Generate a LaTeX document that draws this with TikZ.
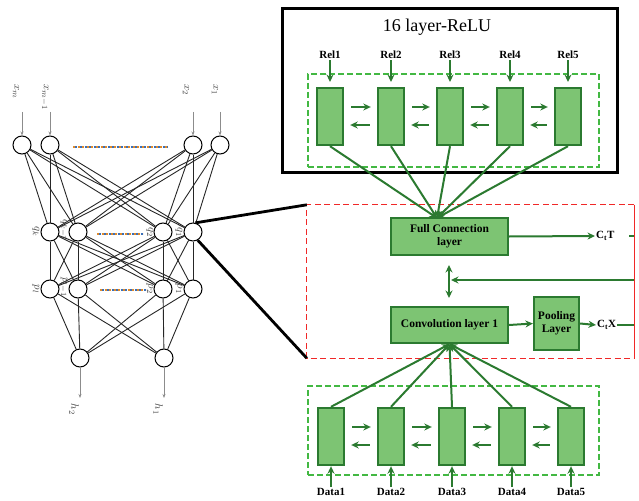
\documentclass[tikz,border=0pt]{standalone}
\usepackage{fontspec}
\setmainfont{Liberation Serif}
\usetikzlibrary{arrows.meta,calc}
\definecolor{gfill}{HTML}{7DC473}
\definecolor{gdraw}{HTML}{2B7A30}
\definecolor{garr}{HTML}{2B7A30}
\definecolor{gdash}{HTML}{43B843}
\definecolor{rdash}{HTML}{F02828}
\definecolor{dotorange}{HTML}{E08A2A}
\definecolor{dotblue}{HTML}{3A6FB8}
\begin{document}
\begin{tikzpicture}[x=1pt,y=-1pt,
  neur/.style={circle,draw,minimum size=18pt,inner sep=0pt,line width=1pt,fill=white},
  nlab/.style={rotate=-90,font=\fontsize{11}{11}\selectfont,text=black!75,inner sep=0.5pt},
  wire/.style={line width=0.9pt,black!85},
  inarr/.style={-{Stealth[length=4pt,width=3pt]},black!45,line width=0.7pt},
  cellbox/.style={draw=gdraw,fill=gfill,line width=2.4pt,minimum width=26pt,minimum height=57pt,inner sep=0pt},
  gbox/.style={draw=gdraw,fill=gfill,line width=2.2pt,inner sep=0pt,align=center,font=\bfseries\fontsize{11.5}{13}\selectfont},
  gdashbox/.style={draw=gdash,line width=1.3pt,dash pattern=on 6pt off 3pt,inner sep=0pt},
  garrow/.style={-{Stealth[length=7.5pt,width=7pt]},garr,line width=2pt},
  gline/.style={garr,line width=2pt},
  glab/.style={font=\bfseries\fontsize{11}{12}\selectfont,inner sep=1pt},
  dotorst/.style={draw=dotorange,line width=2pt,dash pattern=on 2pt off 2.6pt},
  dotblst/.style={draw=dotblue,line width=2pt,dash pattern=on 2pt off 2.6pt,dash phase=2.3pt}]
\useasboundingbox (0,0) rectangle (639,500);

% ---------------- left network ----------------
\node[neur] (i4) at (22,145) {};
\node[neur] (i3) at (50,145) {};
\node[neur] (i2) at (193,145) {};
\node[neur] (i1) at (220,145) {};
\node[neur] (h4) at (50,232) {};
\node[neur] (h3) at (78,232) {};
\node[neur] (h2) at (163,232) {};
\node[neur] (h1) at (193,232) {};
\node[neur] (g4) at (50,289) {};
\node[neur] (g3) at (78,289) {};
\node[neur] (g2) at (163,289) {};
\node[neur] (g1) at (193,289) {};
\node[neur] (o2) at (80,358) {};
\node[neur] (o1) at (164,358) {};

\foreach \a in {i1,i2,i3,i4}{\foreach \b in {h1,h2,h3,h4}{\draw[wire] (\a) -- (\b);}}
\foreach \a in {h1,h2,h3,h4}{\foreach \b in {g1,g2,g3,g4}{\draw[wire] (\a) -- (\b);}}
\foreach \a in {g1,g2,g3,g4}{\foreach \b in {o1,o2}{\draw[wire] (\a) -- (\b);}}

\coordinate (ia4) at (22,112);
\coordinate (ia3) at (50,112);
\coordinate (ia2) at (193,112);
\coordinate (ia1) at (220,112);
\foreach \k in {1,2,3,4}{\draw[inarr] (ia\k) -- (i\k);}
\node[nlab,anchor=west] (lx4) at (16,84) {$x_m$};
\node[nlab,anchor=west] (lx3) at (45,84) {$x_{m-1}$};
\node[nlab,anchor=west] (lx2) at (186,84) {$x_2$};
\node[nlab,anchor=west] (lx1) at (215,84) {$x_1$};

\node[nlab] (lq4) at (36,232) {$q_k$};
\node[nlab] (lq3) at (64,230) {$q_{k-1}$};
\node[nlab] (lq2) at (150,232) {$q_2$};
\node[nlab] (lq1) at (179,232) {$q_1$};
\node[nlab] (lp4) at (36,289) {$p_l$};
\node[nlab] (lp3) at (64,287) {$p_{l-1}$};
\node[nlab] (lp2) at (150,289) {$p_2$};
\node[nlab] (lp1) at (179,289) {$p_1$};

\coordinate (oa2) at (80,398);
\coordinate (oa1) at (164,398);
\draw[inarr] (o2) -- (oa2);
\draw[inarr] (o1) -- (oa1);
\node[nlab,anchor=west] (lh2) at (74,403) {$h_2$};
\node[nlab,anchor=west] (lh1) at (158,403) {$h_1$};

\draw[dotorst] (73,147) -- (168,147);
\draw[dotblst] (73,147) -- (168,147);
\draw[dotorst] (97,234) -- (143,234);
\draw[dotblst] (97,234) -- (143,234);
\draw[dotorst] (100,290) -- (146,290);
\draw[dotblst] (100,290) -- (146,290);

% ---------------- red dashed box ----------------
\node[minimum width=327pt,minimum height=153pt,inner sep=0pt] (rb) at (470.5,281.5) {};
\draw[rdash,line width=1.3pt,dash pattern=on 6pt off 3.5pt] (rb.north east) -- (rb.north west) -- (rb.south west) -- (rb.south east);
\draw[rdash,line width=1.1pt] (rb.north east) -- (rb.south east);

\draw[line width=2.8pt] (h1.75) -- (rb.north west);
\draw[line width=2.8pt] (h1.-60) -- (rb.south west);

% ---------------- top black box ----------------
\node[draw,line width=3pt,minimum width=335pt,minimum height=164pt,inner sep=0pt] (bb) at (450,90.5) {};
\node[font=\fontsize{18}{18}\selectfont] (title) at (437,27) {16 layer-ReLU};
\node[gdashbox,minimum width=291pt,minimum height=93pt] (td) at (453.5,120.5) {};

\foreach \k/\x in {1/330,2/391,3/450,4/510,5/568}{
  \node[cellbox] (t\k) at (\x,116.5) {};
  \node[glab] (rel\k) at (\x,55) {Rel\k};
  \coordinate (ra\k) at (\x,82);
  \draw[garrow] (rel\k.south) -- (ra\k);
}
\foreach \a/\b in {1/2,2/3,3/4,4/5}{
  \draw[garrow] ($(t\a.east)+(7,-9.5)$) -- ($(t\b.west)+(-6,-9.5)$);
  \draw[garrow] ($(t\b.west)+(-7,8.5)$) -- ($(t\a.east)+(6,8.5)$);
}

% ---------------- middle blocks ----------------
\node[gbox,minimum width=117pt,minimum height=37pt] (fc) at (449.5,236.5) {Full Connection\\layer};
\node[gbox,minimum width=117pt,minimum height=36pt] (cv) at (449.5,325) {Convolution layer 1};
\node[gbox,minimum width=45pt,minimum height=53pt] (pl) at (556.5,323.5) {Pooling\\Layer};
\coordinate (fcin) at (437,218);
\foreach \k in {1,2,3,4,5}{\draw[garrow] (t\k.south) -- (fcin);}

\node[glab,anchor=west] (ctt) at (595,236) {C\textsubscript{t}T};
\draw[garrow] (fc.east) -- (ctt.west);
\coordinate (ttick) at (629,236);
\draw[gline] (ttick) -- (rb.east |- ttick);

\node[glab,anchor=west] (ctx) at (596,325) {C\textsubscript{t}X};
\draw[garrow] (cv.east) -- (pl.west);
\draw[garrow] (pl.east) -- (ctx.west);
\draw[gline] (ctx.east) -- (rb.east |- ctx.east);

\coordinate (vtop) at (449,265);
\coordinate (vbot) at (449,298);
\draw[{Stealth[length=7.5pt,width=7pt]}-{Stealth[length=7.5pt,width=7pt]},garr,line width=2pt] (vtop) -- (vbot);
\coordinate (fbr) at (634,280);
\coordinate (fbl) at (451,280);
\draw[garrow] (fbr) -- (fbl);

% ---------------- bottom cells ----------------
\node[gdashbox,minimum width=291pt,minimum height=89pt] (bd) at (453.5,430.5) {};
\foreach \k/\x in {1/331,2/391,3/452,4/512,5/571}{
  \node[cellbox] (b\k) at (\x,436.5) {};
  \node[glab] (dat\k) at (\x,492) {Data\k};
  \draw[garrow] (dat\k.north) -- (b\k.south);
  \draw[garrow] (b\k.north) -- (cv.south);
}
\foreach \a/\b in {1/2,2/3,3/4,4/5}{
  \draw[garrow] ($(b\a.east)+(7,-9.5)$) -- ($(b\b.west)+(-6,-9.5)$);
  \draw[garrow] ($(b\b.west)+(-7,8.5)$) -- ($(b\a.east)+(6,8.5)$);
}
\end{tikzpicture}
\end{document}
